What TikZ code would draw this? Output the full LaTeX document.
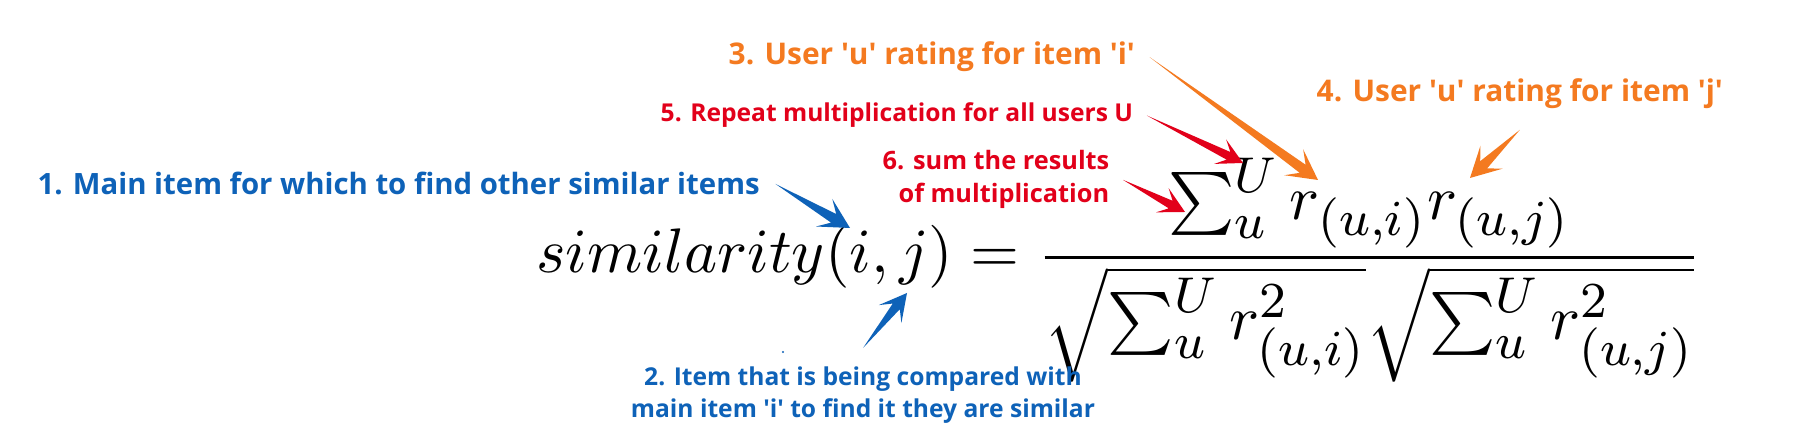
\documentclass[tikz,border=0pt]{standalone}
\usepackage{fontspec}
\newfontfamily\lblfont{Open Sans}
\usepackage{tikz}
\usetikzlibrary{calc}
\DeclareMathSizes{10}{10}{8}{6}
\definecolor{itemblue}{RGB}{14,98,184}
\definecolor{rateorange}{RGB}{244,122,32}
\definecolor{sumred}{RGB}{226,0,26}
\newcommand{\q}{\textquotesingle}
\newcommand{\fatarrow}[4][1]{%
  \fill[#2] (#3) -- ($(#4)!{#1*0.19cm}!(#3)!{#1*0.05cm}!90:(#3)$) -- ($(#4)!{#1*0.3cm}!(#3)!{#1*0.16cm}!90:(#3)$) -- (#4)
    -- ($(#4)!{#1*0.3cm}!(#3)!{#1*0.16cm}!-90:(#3)$) -- ($(#4)!{#1*0.19cm}!(#3)!{#1*0.05cm}!-90:(#3)$) -- cycle;}

\begin{document}
\begin{tikzpicture}[
    mainlbl/.style={inner sep=0pt, font=\lblfont\bfseries\fontsize{8.35}{10}\selectfont},
    ratelbl/.style={inner sep=0pt, text=rateorange, font=\lblfont\bfseries\fontsize{8.5}{10}\selectfont},
    steplbl/.style={inner sep=0pt, font=\lblfont\bfseries\fontsize{7}{9.2}\selectfont}]
    \useasboundingbox[fill=white] (0,0) rectangle (18.18,4.48);

    \node[anchor=base west, inner sep=0pt, scale=1.79, transform shape] (formula) at (5.35,1.75)
        {$\displaystyle similarity(i,j)=\frac{\sum_u^U r_{(u,i)}r_{(u,j)}}{\sqrt{\sum_u^U r_{(u,i)}^2}\sqrt{\sum_u^U r_{(u,j)}^2}}$};

    \node[mainlbl, text=itemblue, anchor=base west] (lbl1) at (0.37,2.53) {1. Main item for which to find other similar items};
    \node[steplbl, text=itemblue, align=center, anchor=north] (lbl2) at (8.63,0.82) {2. Item that is being compared with\\main item \q i\q{} to find it they are similar};
    \node[ratelbl, anchor=base west] (lbl3) at (7.28,3.83) {3. User \q u\q{} rating for item \q i\q};
    \node[ratelbl, anchor=base west] (lbl4) at (13.16,3.46) {4. User \q u\q{} rating for item \q j\q};
    \node[steplbl, text=sumred, anchor=base west] (lbl5) at (6.60,3.26) {5. Repeat multiplication for all users U};
    \node[steplbl, text=sumred, font=\lblfont\bfseries\fontsize{7.2}{9.4}\selectfont, align=right, anchor=north east] (lbl6) at (11.10,2.98) {6. sum the results\\of multiplication};

    \coordinate (t1) at ([xshift=0.15cm]lbl1.east);  \coordinate (pi) at (8.50,2.20);
    \coordinate (t2) at ([yshift=0.18cm]lbl2.north); \coordinate (pj) at (9.07,1.55);
    \coordinate (t3) at ([xshift=0.14cm]lbl3.east);  \coordinate (ri) at (13.18,2.68);
    \coordinate (t4) at ([yshift=-0.2cm]lbl4.south); \coordinate (rj) at (14.70,2.70);
    \coordinate (t5) at ([xshift=0.13cm]lbl5.east);  \coordinate (sup) at (12.43,2.85);
    \coordinate (t6) at ([xshift=0.13cm]lbl6.east);  \coordinate (sig) at (11.85,2.36);

    \fatarrow{itemblue}{t1}{pi}
    \fatarrow[0.9]{itemblue}{t2}{pj}
    \fatarrow{rateorange}{t3}{ri}
    \fatarrow{rateorange}{t4}{rj}
    \fatarrow[0.85]{sumred}{t5}{sup}
    \fatarrow[0.85]{sumred}{t6}{sig}
    \fill[itemblue] (7.83,0.96) circle (0.012);
\end{tikzpicture}
\end{document}
